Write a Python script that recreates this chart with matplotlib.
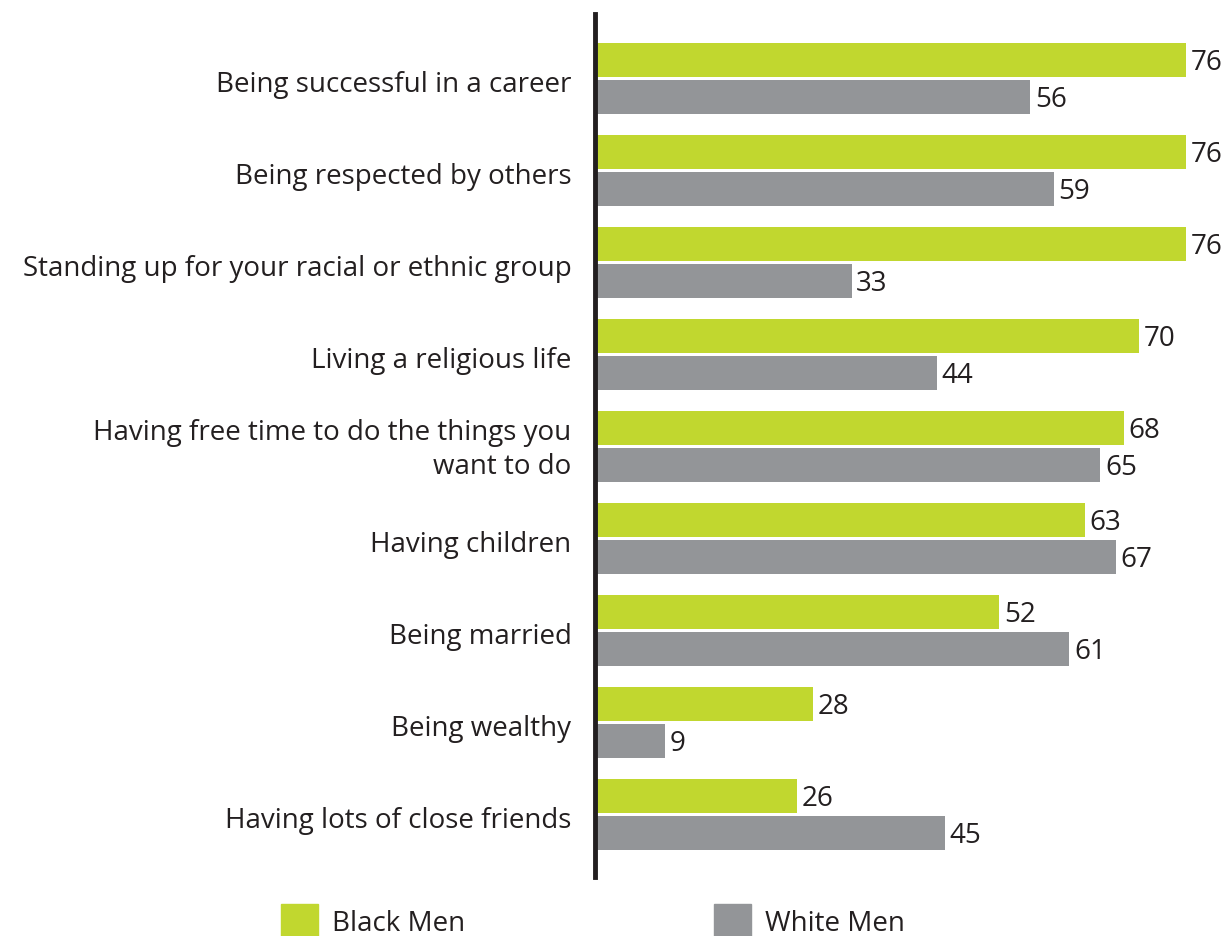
import matplotlib.pyplot as plt
import matplotlib.transforms as mtransforms
import numpy as np

categories = [
    'Being successful in a career',
    'Being respected by others',
    'Standing up for your racial or ethnic group',
    'Living a religious life',
    'Having free time to do the things you\nwant to do',
    'Having children',
    'Being married',
    'Being wealthy',
    'Having lots of close friends',
]
black_men = [76, 76, 76, 70, 68, 63, 52, 28, 26]
white_men = [56, 59, 33, 44, 65, 67, 61, 9, 45]

GREEN = '#c1d72f'
GREY = '#939598'
TEXT = '#231f20'
FS = 20

plt.rcParams['font.family'] = ['Open Sans', 'DejaVu Sans']

W, H = 1226, 937
fig = plt.figure(figsize=(W / 100, H / 100), dpi=100)

# axes: left spine at x=595, from y=15 to y=878 (pixels)
x0, y_top, y_bot = 595, 15, 878
ax = fig.add_axes([x0 / W, 1 - y_bot / H, (W - x0) / W, (y_bot - y_top) / H])

px_per_unit = 591 / 76
ax.set_xlim(0, (W - x0) / px_per_unit)
ax.set_ylim(8 + (y_bot - 815.5) / 92, -(79.5 - y_top) / 92)

y = np.arange(len(categories))
h = 0.37
off = 0.2
ax.barh(y - off, black_men, height=h, color=GREEN, label='Black Men')
ax.barh(y + off, white_men, height=h, color=GREY, label='White Men')

for yi, v in zip(y, black_men):
    ax.text(v + 0.6, yi - off + 0.02, str(v), va='center', ha='left', fontsize=FS, color=TEXT)
for yi, v in zip(y, white_men):
    ax.text(v + 0.6, yi + off + 0.02, str(v), va='center', ha='left', fontsize=FS, color=TEXT)

ax.set_yticks(y + 0.02)
ax.set_yticklabels(categories, fontsize=FS, color=TEXT, ha='right', linespacing=1.3)
ax.tick_params(axis='y', length=0, pad=17)
ax.set_xticks([])

# the two-line label sits a little higher than its bars
lab = ax.get_yticklabels()[4]
lab.set_transform(lab.get_transform() + mtransforms.ScaledTranslation(0, 0.06, fig.dpi_scale_trans))

for s in ['top', 'right', 'bottom']:
    ax.spines[s].set_visible(False)
ax.spines['left'].set_linewidth(3.5)
ax.spines['left'].set_color(TEXT)

# legend built from two squares with labels at the bottom
def legend_item(xpx, color, label):
    fig.patches.append(plt.Rectangle((xpx / W, 1 - 937 / H), 37 / W, 32 / H,
                                     transform=fig.transFigure, color=color))
    fig.text((xpx + 51) / W, 1 - 924 / H, label, fontsize=FS, color=TEXT,
             va='center', ha='left')

legend_item(281, GREEN, 'Black Men')
legend_item(714, GREY, 'White Men')

fig.savefig('out.png', dpi=100)
